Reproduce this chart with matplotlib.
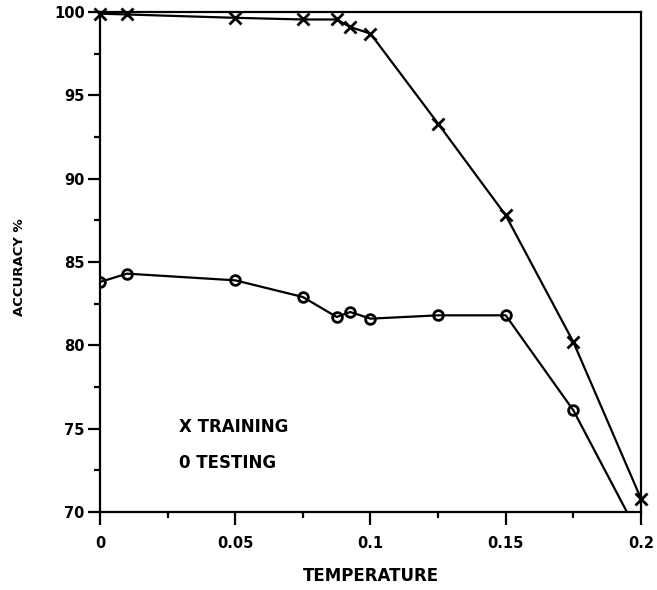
import matplotlib
matplotlib.use("Agg")
import matplotlib.pyplot as plt
from matplotlib.ticker import MultipleLocator

# values
temperature = [0, 0.01, 0.05, 0.075, 0.0875, 0.0925, 0.1, 0.125, 0.15, 0.175, 0.2]
training = [99.9, 99.85, 99.65, 99.55, 99.55, 99.1, 98.7, 93.3, 87.8, 80.2, 70.8]
testing = [83.8, 84.3, 83.9, 82.9, 81.7, 82.0, 81.6, 81.8, 81.8, 76.1, 68.4]

plt.rcParams['font.family'] = ['DejaVu Sans']
plt.rcParams['font.weight'] = 'bold'

fig = plt.figure(figsize=(6.57, 5.90), dpi=100)
ax = fig.add_axes([0.1522, 0.1322, 0.8234, 0.8475])

ax.plot(temperature, training, color='black', lw=1.6, marker='x', ms=8,
        mew=2, clip_on=False)
# last testing value falls below the axis, drawn clipped without a marker
ax.plot(temperature, testing, color='black', lw=1.6, marker='o', ms=7,
        mew=2, mfc='none', markevery=list(range(len(testing) - 1)))

ax.set_xlim(0, 0.2)
ax.set_ylim(70, 100)
ax.xaxis.set_minor_locator(MultipleLocator(0.025))
ax.yaxis.set_major_locator(MultipleLocator(5))
ax.yaxis.set_minor_locator(MultipleLocator(2.5))
ax.set_xticks([0, 0.05, 0.1, 0.15, 0.2])
ax.set_xticklabels(['0', '0.05', '0.1', '0.15', '0.2'])
ax.tick_params(which='major', direction='out', length=9, width=1.6,
               labelsize=10.5, pad=8)
ax.tick_params(which='minor', direction='out', length=4, width=1.6)
ax.tick_params(axis='y', which='major', pad=2)
for s in ax.spines.values():
    s.set_linewidth(1.6)

ax.set_xlabel('TEMPERATURE', fontsize=12, fontweight='bold', labelpad=12)
ax.set_ylabel('ACCURACY %', fontsize=9.5, fontweight='bold')
ax.yaxis.set_label_coords(-0.137, 0.49)

ax.text(0.0293, 75.1, 'X TRAINING', fontsize=12, fontweight='bold',
        va='center')
ax.text(0.0293, 72.95, '0 TESTING', fontsize=12, fontweight='bold',
        va='center')

fig.savefig('out.png', dpi=100)
